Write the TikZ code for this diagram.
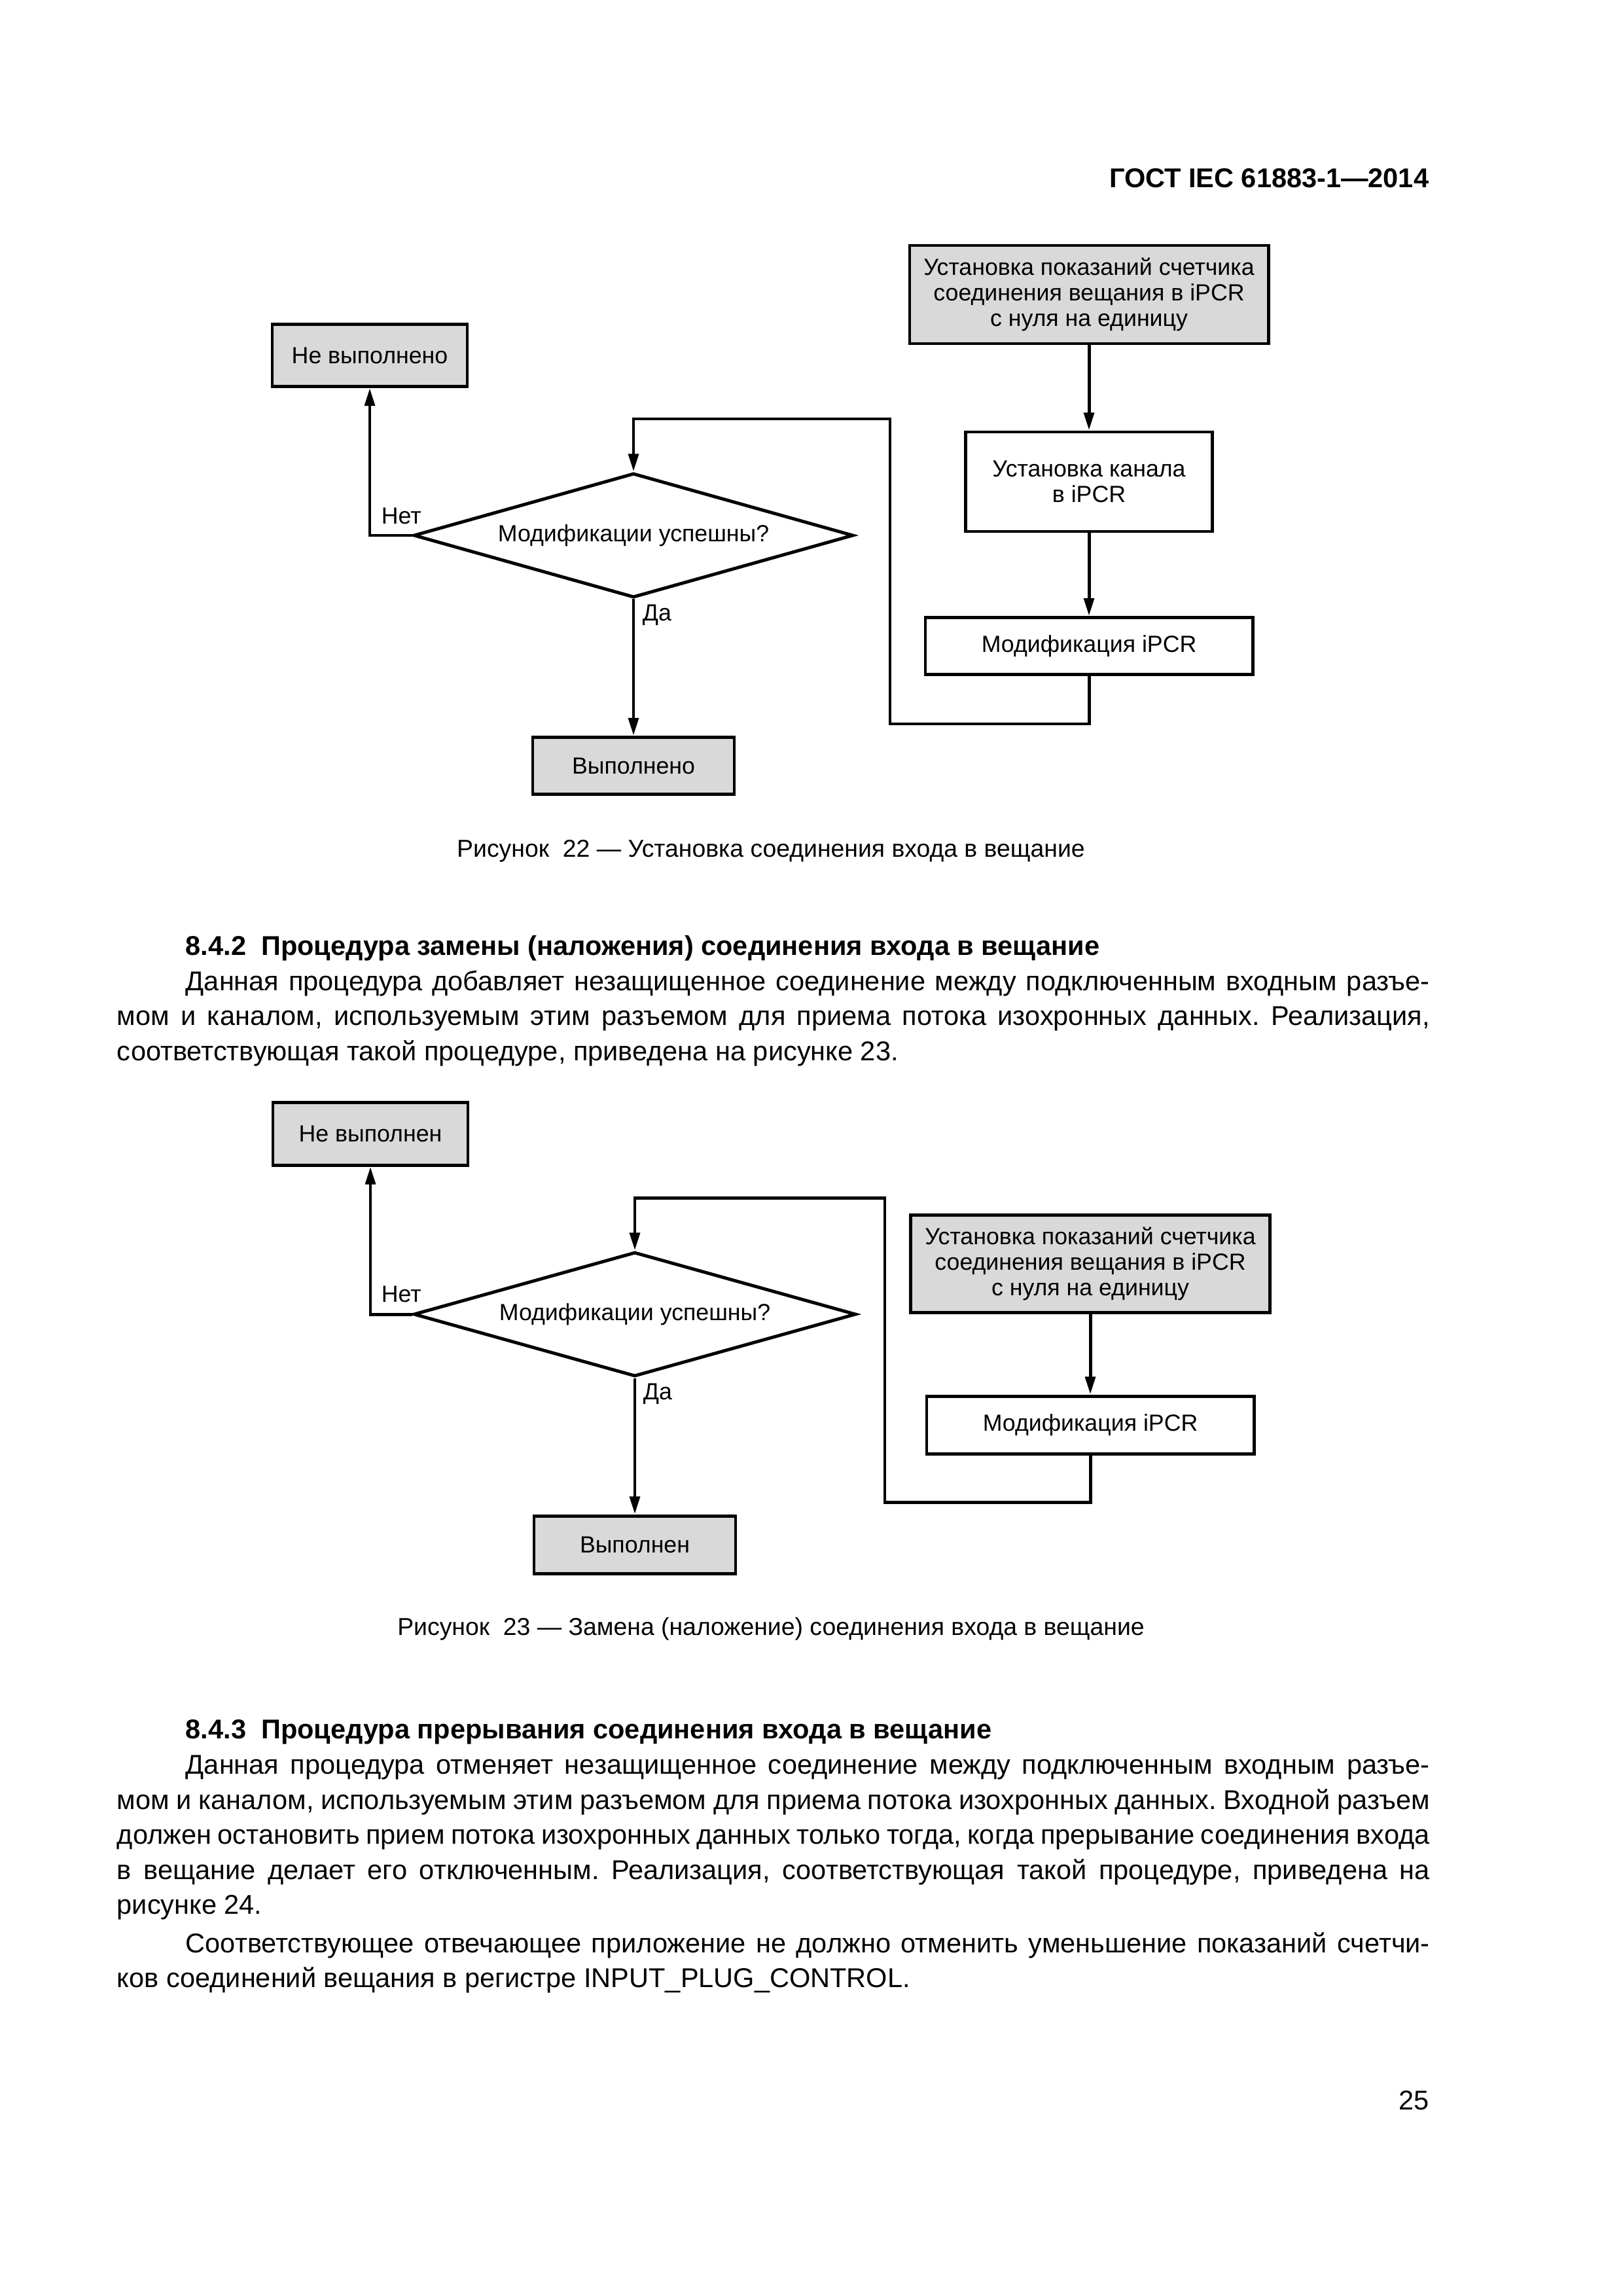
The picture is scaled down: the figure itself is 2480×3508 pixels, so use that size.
\documentclass[tikz,border=0pt]{standalone}
\usepackage{fontspec}
\setmainfont{Liberation Sans}
\usetikzlibrary{shapes.geometric,arrows.meta}
\newlength{\pxl}\setlength{\pxl}{0.0846774mm}
\newcommand{\jl}[2]{\makebox[#1\pxl][s]{#2}}
\frenchspacing
\begin{document}
\begin{tikzpicture}[x=0.0846774mm,y=-0.0846774mm,
  box/.style={draw=black, line width=0.42mm, inner sep=0pt, align=center, font=\fontsize{8.6}{9.3}\selectfont},
  graybox/.style={box, fill=black!15},
  dec/.style={draw=black, line width=0.42mm, diamond, aspect=3.5, inner sep=0pt, font=\fontsize{8.6}{9.3}\selectfont},
  arr/.style={line width=0.42mm, -{Triangle[length=2.3mm,width=1.3mm]}},
  lbl/.style={anchor=base west, inner sep=0pt, font=\fontsize{8.6}{9.3}\selectfont},
  body/.style={anchor=base west, inner sep=0pt, font=\fontsize{10}{12.5}\selectfont\frenchspacing},
  bodyb/.style={body, font=\fontsize{10}{12.5}\selectfont\bfseries\frenchspacing},
  capt/.style={anchor=base, inner sep=0pt, font=\fontsize{9}{11}\selectfont},
]
\path[use as bounding box, fill=white] (0,0) rectangle (2480,3508);

% header
\node[anchor=base east, inner sep=0pt, font=\fontsize{10}{12}\selectfont\bfseries] (hdr) at (2184,286) {ГОСТ IEC 61883-1—2014};

% ---------------- Figure 22 ----------------
\node[graybox, minimum width=548\pxl, minimum height=150\pxl] (a1) at (1664,450) {Установка показаний счетчика\\соединения вещания в iPCR\\с нуля на единицу};
\node[box, minimum width=377\pxl, minimum height=152\pxl] (b1) at (1664,736) {Установка канала\\в iPCR};
\node[box, minimum width=500\pxl, minimum height=87\pxl] (c1) at (1664,987) {Модификация iPCR};
\node[dec, minimum width=672\pxl, minimum height=190\pxl] (d1) at (968,818) {Модификации успешны?};
\node[graybox, minimum width=298\pxl, minimum height=95\pxl] (n1) at (565,543) {Не выполнено};
\node[graybox, minimum width=308\pxl, minimum height=87\pxl] (y1) at (968,1170) {Выполнено};
\coordinate (l1) at (1360,1106);
\coordinate (l2) at (1360,640);
\draw[arr] (a1) -- (b1);
\draw[arr] (b1) -- (c1);
\draw[arr] (c1.south) |- (l1) -- (l2) -| (d1.north);
\draw[arr] (d1.west) -| (n1.south);
\draw[arr] (d1.south) -- (y1.north);
\node[lbl] (net1) at (582,800) {Нет};
\node[lbl] (da1) at (981,948) {Да};
\node[capt] (cap22) at (1178,1309) {Рисунок\ \ 22 — Установка соединения входа в вещание};

% ---------------- Section 8.4.2 ----------------
\node[bodyb] (h842) at (283,1459) {8.4.2\ \ Процедура замены (наложения) соединения входа в вещание};
\node[body] (p1l1) at (283,1513) {\jl{1901}{Данная процедура добавляет незащищенное соединение между подключенным входным разъе-}};
\node[body] (p1l2) at (178,1566) {\jl{2006}{мом и каналом, используемым этим разъемом для приема потока изохронных данных. Реализация,}};
\node[body] (p1l3) at (178,1620) {соответствующая такой процедуре, приведена на рисунке 23.};

% ---------------- Figure 23 ----------------
\node[graybox, minimum width=549\pxl, minimum height=149\pxl] (a2) at (1666,1931) {Установка показаний счетчика\\соединения вещания в iPCR\\с нуля на единицу};
\node[box, minimum width=500\pxl, minimum height=88\pxl] (c2) at (1666,2177) {Модификация iPCR};
\node[dec, minimum width=676\pxl, minimum height=190\pxl] (d2) at (970,2008) {Модификации успешны?};
\node[graybox, minimum width=298\pxl, minimum height=96\pxl] (n2) at (566,1732) {Не выполнен};
\node[graybox, minimum width=308\pxl, minimum height=88\pxl] (y2) at (970,2360) {Выполнен};
\coordinate (m1) at (1352,2295);
\coordinate (m2) at (1352,1830);
\draw[arr] (a2) -- (c2);
\draw[arr] (c2.south) |- (m1) -- (m2) -| (d2.north);
\draw[arr] (d2.west) -| (n2.south);
\draw[arr] (d2.south) -- (y2.north);
\node[lbl] (net2) at (582,1989) {Нет};
\node[lbl] (da2) at (982,2138) {Да};
\node[capt] (cap23) at (1178,2498) {Рисунок\ \ 23 — Замена (наложение) соединения входа в вещание};

% ---------------- Section 8.4.3 ----------------
\node[bodyb] (h843) at (283,2656) {8.4.3\ \ Процедура прерывания соединения входа в вещание};
\node[body] (p2l1) at (283,2710) {\jl{1901}{Данная процедура отменяет незащищенное соединение между подключенным входным разъе-}};
\node[body] (p2l2) at (178,2764) {\jl{2006}{мом и каналом, используемым этим разъемом для приема потока изохронных данных. Входной разъем}};
\node[body] (p2l3) at (178,2817) {\jl{2006}{должен остановить прием потока изохронных данных только тогда, когда прерывание соединения входа}};
\node[body] (p2l4) at (178,2871) {\jl{2006}{в вещание делает его отключенным. Реализация, соответствующая такой процедуре, приведена на}};
\node[body] (p2l5) at (178,2924) {рисунке 24.};
\node[body] (p3l1) at (283,2983) {\jl{1901}{Соответствующее отвечающее приложение не должно отменить уменьшение показаний счетчи-}};
\node[body] (p3l2) at (178,3036) {ков соединений вещания в регистре INPUT\_PLUG\_CONTROL.};

% page number
\node[anchor=base east, inner sep=0pt, font=\fontsize{10}{12}\selectfont] (pg) at (2184,3223) {25};
\end{tikzpicture}
\end{document}
